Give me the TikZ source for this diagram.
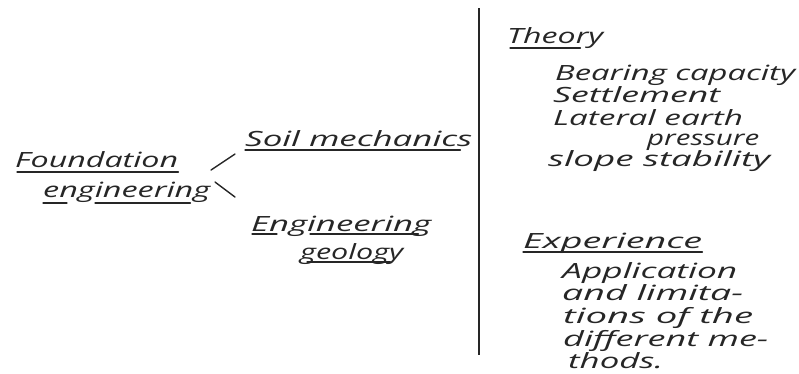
\documentclass[tikz,border=0pt]{standalone}
\usepackage{fontspec}
\usepackage{graphicx}
\setmainfont{Open Sans}
\definecolor{ink}{HTML}{262626}
\newcommand\fw[2]{\resizebox{#1pt}{\height}{#2}}
\begin{document}
\begin{tikzpicture}[x=1pt,y=-1pt,
  hw/.style={anchor=base west,inner sep=0pt,text=ink,font=\itshape\fontsize{21}{21}\selectfont},
  ul/.style={draw=ink,line width=1.2pt,line cap=round},
  conn/.style={draw=ink,line width=1.4pt,line cap=round}]
\useasboundingbox (0,0) rectangle (799,373);
% left tree
\node[hw] (found) at (15,167) {\fw{163}{Foundation}};
\node[hw] (eng1) at (43,197) {\fw{167}{engineering}};
\node[hw] (soil) at (245,146) {\fw{227}{Soil mechanics}};
\node[hw] (engg) at (251,231) {\fw{180}{Engineering}};
\node[hw] (geol) at (300,259) {\fw{103}{geology}};
\coordinate (c1a) at (211,170);
\coordinate (c1b) at (235,154);
\coordinate (c2a) at (215,182);
\coordinate (c2b) at (235,197);
\draw[conn] (c1a) -- (c1b);
\draw[conn] (c2a) -- (c2b);
% underlines left
\draw[ul] ([xshift=2pt,yshift=-5pt]found.base west) -- ([yshift=-5pt]found.base east);
\draw[ul] ([xshift=0pt,yshift=-6pt]eng1.base west) -- ([xshift=24pt,yshift=-6pt]eng1.base west);
\draw[ul] ([xshift=52pt,yshift=-6pt]eng1.base west) -- ([xshift=-20pt,yshift=-6pt]eng1.base east);
\draw[ul] ([xshift=0pt,yshift=-4pt]soil.base west) -- ([xshift=-12pt,yshift=-4pt]soil.base east);
\draw[ul] ([xshift=1pt,yshift=-3pt]engg.base west) -- ([xshift=26pt,yshift=-3pt]engg.base west);
\draw[ul] ([xshift=59pt,yshift=-3pt]engg.base west) -- ([xshift=-13pt,yshift=-3pt]engg.base east);
\draw[ul] ([xshift=7pt,yshift=-3pt]geol.base west) -- ([xshift=-13pt,yshift=-3pt]geol.base east);
% divider
\coordinate (vtop) at (479,8);
\coordinate (vbot) at (479,355);
\draw[draw=ink,line width=1.4pt] (vtop) -- (vbot);
% right side
\node[hw] (theory) at (507,43) {\fw{96}{Theory}};
\draw[ul] ([xshift=3pt,yshift=-5pt]theory.base west) -- ([xshift=-23pt,yshift=-5pt]theory.base east);
\node[hw] (bc) at (555,80) {\fw{240}{Bearing capacity}};
\node[hw] (settle) at (553,102) {\fw{167}{Settlement}};
\node[hw] (lat) at (553,125) {\fw{190}{Lateral earth}};
\node[hw] (press) at (647,145) {\fw{112}{pressure}};
\node[hw] (slope) at (548,166) {\fw{222}{slope stability}};
\node[hw] (exp) at (523,248) {\fw{179}{Experience}};
\draw[ul] ([xshift=0pt,yshift=-4pt]exp.base west) -- ([yshift=-4pt]exp.base east);
\node[hw] (a1) at (562,278) {\fw{175}{Application}};
\node[hw] (a2) at (562,300) {\fw{181}{and limita-}};
\node[hw] (a3) at (563,323) {\fw{190}{tions of the}};
\node[hw] (a4) at (563,346) {\fw{205}{different me-}};
\node[hw] (a5) at (568,368) {\fw{95}{thods.}};
\end{tikzpicture}
\end{document}
